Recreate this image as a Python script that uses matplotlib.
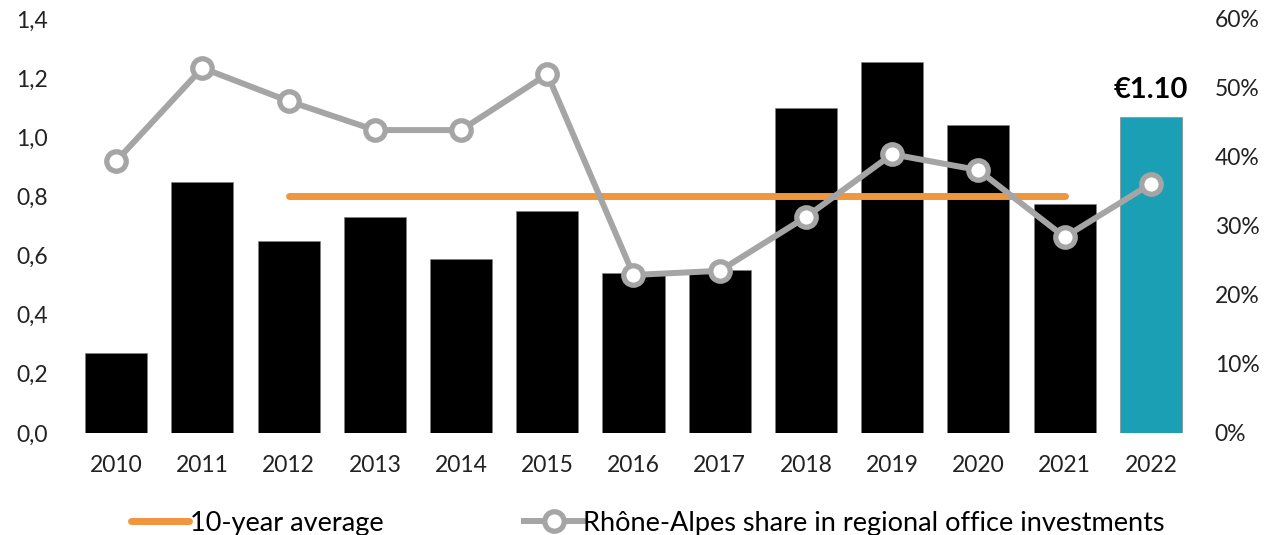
import matplotlib
matplotlib.use("Agg")
import matplotlib.pyplot as plt
from matplotlib.ticker import FuncFormatter

plt.rcParams['font.family'] = ['Lato', 'DejaVu Sans']

# données
years = ['2010', '2011', '2012', '2013', '2014', '2015', '2016',
         '2017', '2018', '2019', '2020', '2021', '2022']
volumes = [0.27, 0.85, 0.65, 0.73, 0.59, 0.75, 0.54,
           0.55, 1.10, 1.255, 1.04, 0.775, 1.07]
share = [39.4, 52.9, 48.1, 43.9, 43.9, 52.0, 22.9,
         23.5, 31.3, 40.4, 38.1, 28.4, 36.1]
avg_years = ['2012', '2021']
avg_value = 0.80
last_label = '€1.10'

fig = plt.figure(figsize=(12.68, 5.35), dpi=100)
ax = fig.add_axes([0.0576, 0.1907, 0.884, 0.7738])

x = list(range(len(years)))
colors = ['black'] * (len(years) - 1) + ['#1A9FB5']
ax.bar(x, volumes, width=0.72, color=colors, edgecolor='#7f7f7f', linewidth=0.4, zorder=2)

i0, i1 = years.index(avg_years[0]), years.index(avg_years[1])
avg_line, = ax.plot([i0, i1], [avg_value, avg_value], color='#F0963C', lw=5,
                    solid_capstyle='round', zorder=3, label='10-year average')

ax.set_ylim(0, 1.4)
ax.set_xlim(-0.5, len(years) - 0.5)
ax.set_yticks([0, 0.2, 0.4, 0.6, 0.8, 1.0, 1.2, 1.4])
ax.yaxis.set_major_formatter(FuncFormatter(lambda v, p: f"{v:.1f}".replace('.', ',')))
ax.set_xticks(x)
ax.set_xticklabels(years)
ax.tick_params(length=0, labelsize=16.5, colors='#222222')
ax.tick_params(axis='x', pad=16)
ax.tick_params(axis='y', pad=18)
for s in ax.spines.values():
    s.set_visible(False)

ax.text(x[-1], volumes[-1] + 0.045, last_label, ha='center', va='bottom',
        fontsize=21, fontweight='bold')

ax2 = ax.twinx()
share_line, = ax2.plot(x, share, color='#A5A5A5', lw=4.3, marker='o', markersize=14,
                       markerfacecolor='white', markeredgecolor='#A5A5A5',
                       markeredgewidth=3.8, zorder=4,
                       label='Rhône-Alpes share in regional office investments')
ax2.set_ylim(0, 60)
ax2.set_yticks(range(0, 61, 10))
ax2.yaxis.set_major_formatter(FuncFormatter(lambda v, p: f"{v:.0f}%"))
ax2.tick_params(length=0, labelsize=16.5, colors='#222222', pad=15)
for s in ax2.spines.values():
    s.set_visible(False)

fig.legend(handles=[avg_line, share_line], loc='center', ncol=2,
           bbox_to_anchor=(0.511, 0.022), frameon=False, fontsize=19.5,
           handlelength=2.15, handletextpad=0.02, columnspacing=5.2,
           borderpad=0, borderaxespad=0)

fig.savefig('out.png', dpi=100)
